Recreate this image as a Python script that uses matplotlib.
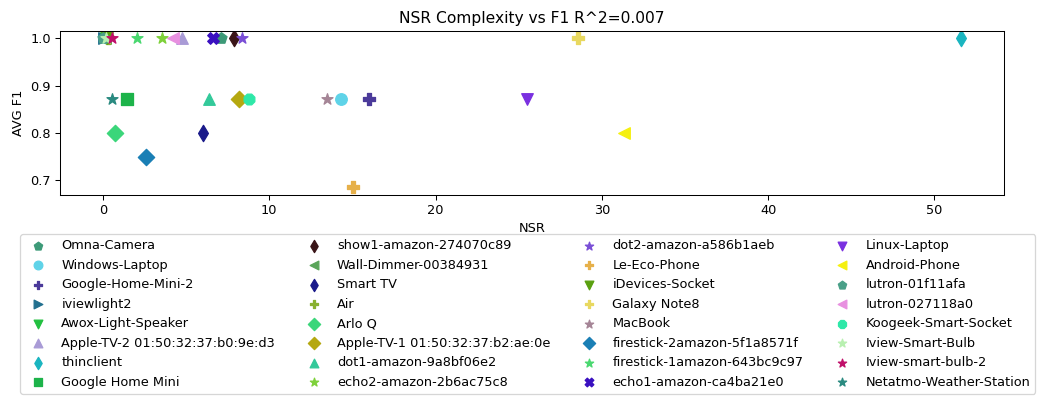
import matplotlib
matplotlib.use("Agg")
import matplotlib.pyplot as plt

# device, NSR, AVG F1, marker, colour
devices = ["Omna-Camera", "Windows-Laptop", "Google-Home-Mini-2", "iviewlight2",
           "Awox-Light-Speaker", "Apple-TV-2 01:50:32:37:b0:9e:d3", "thinclient", "Google Home Mini",
           "show1-amazon-274070c89", "Wall-Dimmer-00384931", "Smart TV", "Air",
           "Arlo Q", "Apple-TV-1 01:50:32:37:b2:ae:0e", "dot1-amazon-9a8bf06e2", "echo2-amazon-2b6ac75c8",
           "dot2-amazon-a586b1aeb", "Le-Eco-Phone", "iDevices-Socket", "Galaxy Note8",
           "MacBook", "firestick-2amazon-5f1a8571f", "firestick-1amazon-643bc9c97", "echo1-amazon-ca4ba21e0",
           "Linux-Laptop", "Android-Phone", "lutron-01f11afa", "lutron-027118a0",
           "Koogeek-Smart-Socket", "Iview-Smart-Bulb", "Iview-smart-bulb-2", "Netatmo-Weather-Station"]

nsr = [7.1, 14.29, 16.0, 0.05,
       0.15, 4.77, 51.6, 1.44,
       7.87, 0.1, 6.03, 0.3,
       0.70, 8.19, 6.37, 3.54,
       8.33, 15.05, 0.25, 28.57,
       13.49, 2.6, 2.04, 6.63,
       25.5, 31.35, 0.0, 4.2,
       8.79, 0.2, 0.54, 0.54]

f1 = [1.0, 0.872, 0.872, 1.0,
      1.0, 1.0, 1.0, 0.872,
      1.0, 1.0, 0.8, 1.0,
      0.8, 0.872, 0.872, 1.0,
      1.0, 0.684, 1.0, 1.0,
      0.872, 0.748, 1.0, 1.0,
      0.872, 0.8, 1.0, 1.0,
      0.872, 1.0, 1.0, 0.872]

markers = ["p", "o", "P", ">",
           "v", "^", "d", "s",
           "d", "<", "d", "P",
           "D", "D", "^", "*",
           "*", "P", "v", "P",
           "*", "D", "*", "X",
           "v", "<", "p", "<",
           "8", "*", "*", "*"]

colors = ["#3d9a78", "#5fd3e8", "#4b3a9a", "#22708f",
          "#22c040", "#a99bd6", "#1ab5c0", "#1db34a",
          "#3a1518", "#5aa55a", "#1a1a8a", "#88b030",
          "#3bd67a", "#b5a810", "#33c99a", "#7ed13a",
          "#7a4fd6", "#e6b04a", "#5aa010", "#e8d860",
          "#a58596", "#1a7fb5", "#4ad870", "#3a10c0",
          "#7a30e0", "#f5f010", "#4aa088", "#e890e0",
          "#2ee8a8", "#b8f0b0", "#c0106a", "#2a8a80"]

DPI = 93
fig = plt.figure(figsize=(1037 / DPI, 396 / DPI), dpi=DPI)
ax = fig.add_axes([0.058, 0.508, 0.910, 0.414])

for name, x, y, m, c in zip(devices, nsr, f1, markers, colors):
    ax.scatter(x, y, marker=m, color=c, s=80, label=name)

ax.set_title("NSR Complexity vs F1 R^2=0.007")
ax.set_xlabel("NSR")
ax.set_ylabel("AVG F1")

fig.legend(loc="upper left", bbox_to_anchor=(0.013, 0.425), ncol=4,
           markerscale=0.75, fontsize=10, columnspacing=2.0, labelspacing=0.5)

fig.savefig("out.png", dpi=DPI)
